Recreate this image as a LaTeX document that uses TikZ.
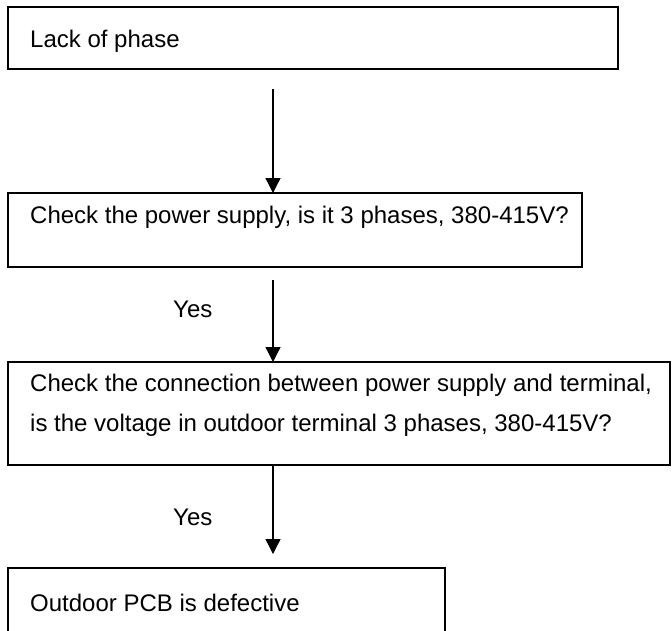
\documentclass[tikz,border=0pt]{standalone}
\usepackage{fontspec}
\setmainfont{Liberation Sans}
\usetikzlibrary{arrows.meta}
\begin{document}
\begin{tikzpicture}[x=1pt,y=-1pt,
  box/.style={draw=black,line width=1.4pt,inner sep=0pt},
  txt/.style={anchor=base west,inner sep=0pt,font=\fontsize{24}{40}\selectfont},
  arr/.style={draw=black,line width=1.3pt,-{Triangle[width=15pt,length=15pt]}}]
\useasboundingbox (0,0) rectangle (672,630);

% boxes
\path (8,7) coordinate (b1nw) (618,69) coordinate (b1se);
\path (8,193) coordinate (b2nw) (582,267) coordinate (b2se);
\path (8,362) coordinate (b3nw) (670,465) coordinate (b3se);
\path (8,568) coordinate (b4nw) (445,632) coordinate (b4se);
\draw[box] (b1nw) rectangle (b1se);
\draw[box] (b2nw) rectangle (b2se);
\draw[box] (b3nw) rectangle (b3se);
\draw[box] (b4nw) rectangle (b4se);

% texts
\node[txt] (t1) at (30,47) {Lack of phase};
\node[txt] (t2) at (30,223) {Check the power supply, is it 3 phases, 380-415V?};
\node[txt] (t3a) at (30,391) {Check the connection between power supply and terminal,};
\node[txt] (t3b) at (30,431) {is the voltage in outdoor terminal 3 phases, 380-415V?};
\node[txt] (t4) at (30,611) {Outdoor PCB is defective};
\node[txt] (y1) at (173,317) {Yes};
\node[txt] (y2) at (173,525) {Yes};

% connectors
\coordinate (a1s) at (273,89);
\coordinate (a1e) at (273,193);
\coordinate (a2s) at (273,280);
\coordinate (a2e) at (273,362);
\coordinate (a3s) at (273,465);
\coordinate (a3e) at (273,554);
\draw[arr] (a1s) -- (a1e);
\draw[arr] (a2s) -- (a2e);
\draw[arr] (a3s) -- (a3e);
\end{tikzpicture}
\end{document}
